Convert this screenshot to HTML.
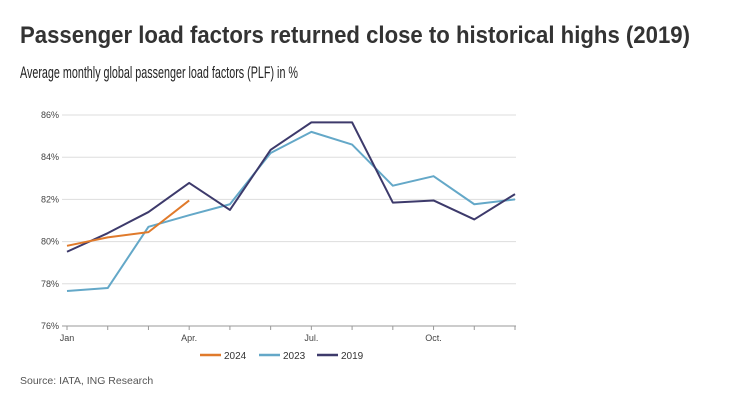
<!DOCTYPE html>
<html><head><meta charset="utf-8"><style>
body{margin:0;background:#fff;}
svg{display:block;font-family:"Liberation Sans",sans-serif;}
</style></head><body>
<svg width="730" height="410" viewBox="0 0 730 410">
<text x="20" y="43" font-size="24" font-weight="bold" fill="#333" textLength="670" lengthAdjust="spacingAndGlyphs">Passenger load factors returned close to historical highs (2019)</text>
<text x="20" y="78" font-size="16.5" fill="#222" textLength="278" lengthAdjust="spacingAndGlyphs">Average monthly global passenger load factors (PLF) in %</text>
<g id="grid"></g>
<g id="axis"></g>
<g id="lines"></g>
<g>
<line x1="200" y1="355" x2="221" y2="355" stroke="#e07a2b" stroke-width="2.5"/>
<text x="224" y="359" font-size="10" fill="#333">2024</text>
<line x1="259" y1="355" x2="280" y2="355" stroke="#64a8c8" stroke-width="2.5"/>
<text x="283" y="359" font-size="10" fill="#333">2023</text>
<line x1="317" y1="355" x2="338" y2="355" stroke="#3d3a6b" stroke-width="2.5"/>
<text x="341" y="359" font-size="10" fill="#333">2019</text>
</g>
<text x="20" y="384" font-size="10.5" fill="#555">Source: IATA, ING Research</text>
</svg>
<script>
const months=["Jan","Feb","Mar","Apr","May","Jun","Jul","Aug","Sep","Oct","Nov","Dec"];
const monthLabels=["Jan","","","Apr.","","","Jul.","","","Oct.","",""];
const yTicks=[76,78,80,82,84,86];
const s2024=[79.8,80.2,80.45,81.95];
const s2023=[77.66,77.8,80.7,81.25,81.77,84.2,85.2,84.6,82.65,83.1,81.77,82.0];
const s2019=[79.52,80.4,81.4,82.78,81.5,84.35,85.65,85.65,81.85,81.95,81.05,82.25];
const NS="http://www.w3.org/2000/svg";
const x=i=>67+i*(515-67)/11;
const y=v=>326-(v-76)*(326-115)/10;
function mk(t,a,p){const e=document.createElementNS(NS,t);for(const k in a)e.setAttribute(k,a[k]);p.appendChild(e);return e;}
const grid=document.getElementById('grid');
yTicks.forEach(v=>{
  if(v>76){const l=mk('line',{x1:62,x2:516,y1:y(v),y2:y(v),stroke:'#ddd','stroke-width':1},grid);
  
  }
  const t=mk('text',{x:59,y:y(v)+3,'font-size':9,fill:'#444','text-anchor':'end'},grid);
  
  
  t.textContent=v+'%';
});
const ax=document.getElementById('axis');
mk('line',{x1:62,x2:516,y1:326,y2:326,stroke:'#999','stroke-width':1},ax);
months.forEach((m,i)=>{
  mk('line',{x1:x(i),x2:x(i),y1:326,y2:330,stroke:'#999'},ax);
  if(monthLabels[i]){const t=mk('text',{x:x(i),y:341,'font-size':9,fill:'#444','text-anchor':'middle'},ax);
  
  
  t.textContent=monthLabels[i];}
});
const lines=document.getElementById('lines');
[[s2023,'#64a8c8','line-2023'],[s2019,'#3d3a6b','line-2019'],[s2024,'#e07a2b','line-2024']].forEach(([d,c,n])=>{
  const p=mk('polyline',{points:d.map((v,i)=>x(i)+','+y(v)).join(' '),fill:'none',stroke:c,'stroke-width':2,'stroke-linejoin':'round'},lines);
  
  
});
</script>
</body></html>
